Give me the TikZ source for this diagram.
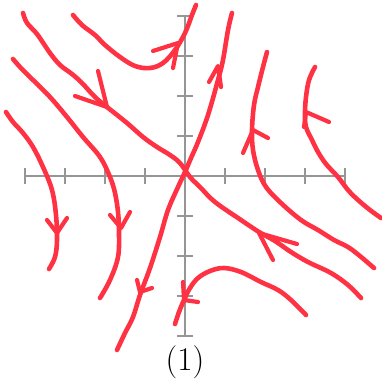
\documentclass[tikz,border=0pt]{standalone}
\usepackage{xcolor}
\usepackage{tikz}
\usetikzlibrary{positioning}

\definecolor{flowred}{RGB}{255,50,68}
\definecolor{axisgray}{RGB}{150,150,150}

\begin{document}
\begin{tikzpicture}[
    x=1pt, y=-1pt,
    axisline/.style={draw=axisgray, line width=1.8pt},
    tickmark/.style={draw=axisgray, line width=1.5pt},
    flow/.style={draw=flowred, line width=4.6pt, line cap=round, line join=round},
    head/.style={draw=flowred, line width=4.2pt, line cap=round, line join=round}
]
    \useasboundingbox (0,0) rectangle (382,381);

    % axes with ticks
    \draw[axisline] (25,176) -- (345,176);
    \draw[axisline] (185,16) -- (185,336);
    \foreach \tx in {25,65,...,345} \draw[tickmark] (\tx,168) -- (\tx,184);
    \foreach \ty in {16,56,...,336} \draw[tickmark] (177,\ty) -- (193,\ty);

    % trajectories
    \draw[flow] plot[smooth, tension=0.6] coordinates {(73,15) (82,25) (95,35) (105,45) (120,57) (135,66) (150,68) (163,63) (175,50) (185,33) (192,15) (196,5)};
    \draw[flow] plot[smooth, tension=0.6] coordinates {(23,13) (27,23) (37,34) (50,53) (60,65) (72,74) (82,83) (95,97) (107,107) (127,123) (143,137) (157,147) (170,155) (180,163) (190,177) (200,187) (215,202) (241,220) (259,232) (275,241) (291,252) (308,262) (331,273) (348,285) (361,298)};
    \draw[flow] plot[smooth, tension=0.6] coordinates {(117,350) (125,333) (133,317) (140,295) (150,268) (160,237) (168,210) (178,187) (185,172) (191,158) (198,142) (208,115) (218,80) (223,60) (228,30) (232,13)};
    \draw[flow] plot[smooth, tension=0.6] coordinates {(267,52) (263,67) (258,87) (254,105) (252,130) (253,150) (258,170) (266,187) (281,203) (301,220) (318,230) (334,240) (351,249) (374,268)};
    \draw[flow] plot[smooth, tension=0.6] coordinates {(315,67) (309,80) (306,97) (305,113) (306,127) (312,140) (318,152) (326,164) (338,177) (348,190) (358,200) (370,210) (381,218)};
    \draw[flow] plot[smooth, tension=0.6] coordinates {(306,315) (291,300) (278,290) (261,282) (241,272) (224,268) (210,271) (198,278) (190,288) (184,300) (179,312) (175,324)};
    \draw[flow] plot[smooth, tension=0.6] coordinates {(13,59) (20,67) (33,80) (50,97) (67,117) (83,137) (100,157) (110,177) (115,193) (118,212) (119,232) (118,257) (110,280) (100,298)};
    \draw[flow] plot[smooth, tension=0.6] coordinates {(6,112) (13,122) (23,133) (33,147) (43,167) (52,190) (56,215) (57,240) (55,257) (49,269)};

    % arrow heads
    \draw[head] (153,51) -- (178,43) -- (173,68);
    \draw[head] (98,71) -- (107,107) -- (75,96);
    \draw[head] (273,260) -- (259,233) -- (297,244);
    \draw[head] (209,82) -- (218,66) -- (221,87);
    \draw[head] (137,280) -- (140,292) -- (152,288);
    \draw[head] (243,153) -- (253,130) -- (268,138);
    \draw[head] (304,127) -- (306,112) -- (329,122);
    \draw[head] (183,282) -- (184,300) -- (198,302);
    \draw[head] (110,215) -- (121,228) -- (130,212);
    \draw[head] (47,220) -- (57,233) -- (67,218);

    \node[font=\Huge, scale=1.33, anchor=base, inner sep=0pt] (caption) at (185,370) {(1)};

\end{tikzpicture}
\end{document}
